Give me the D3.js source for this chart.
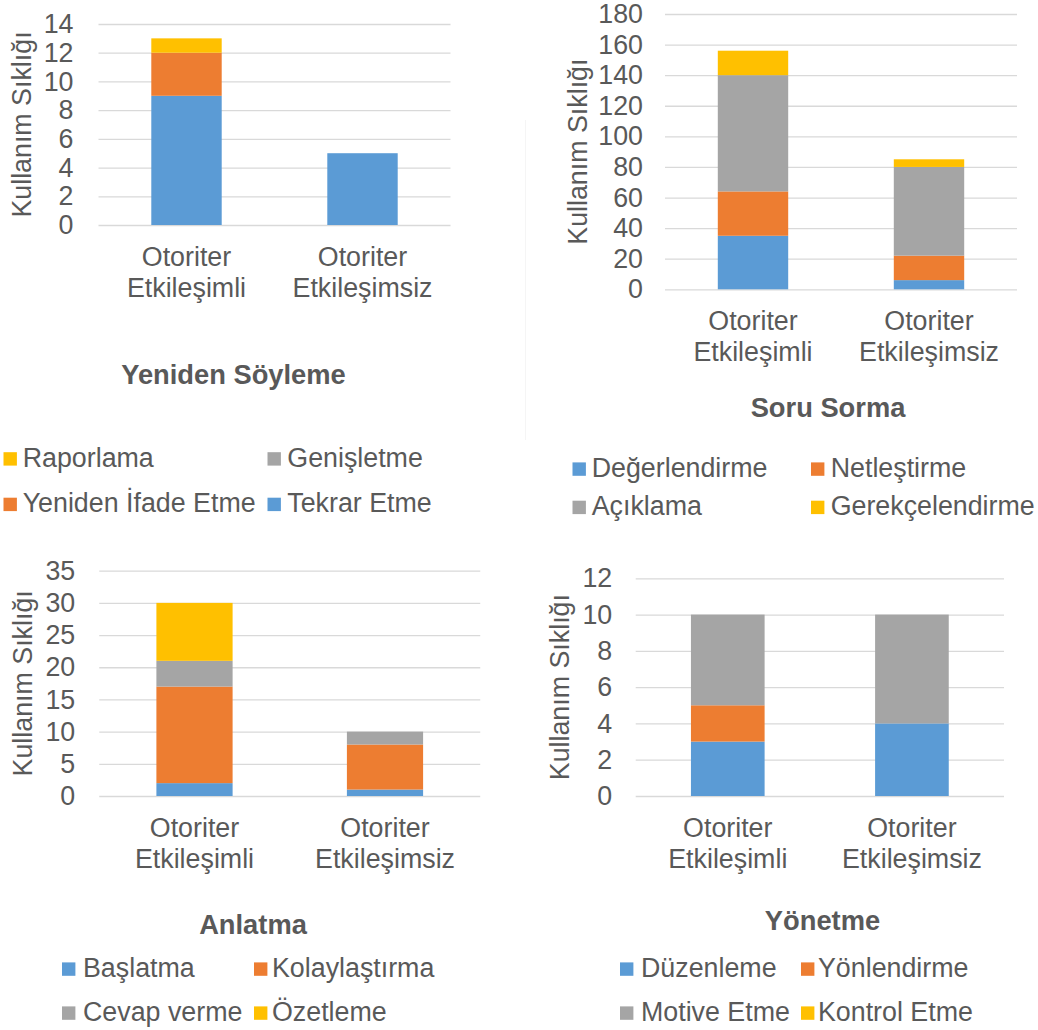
<!DOCTYPE html>
<html lang="tr">
<head>
<meta charset="utf-8">
<title>Kullanım Sıklığı</title>
<script src="https://cdn.jsdelivr.net/npm/d3@7"></script>
<style>
  html, body { margin: 0; padding: 0; background: #ffffff; }
  svg { display: block; }
</style>
</head>
<body>
<svg id="chart" width="1038" height="1030"></svg>
<script>
// Categories shared by all four charts
const categories = ["Otoriter Etkileşimli", "Otoriter Etkileşimsiz"];
const categoryLines = [["Otoriter", "Etkileşimli"], ["Otoriter", "Etkileşimsiz"]];

// Series colours, bottom to top of each stack
const seriesColors = ["#5B9BD5", "#ED7D31", "#A5A5A5", "#FFC000"];

// Yeniden Söyleme
const yenidenSeries = ["Tekrar Etme", "Yeniden İfade Etme", "Genişletme", "Raporlama"];
const tekrarEtme = [9, 5];
const yenidenIfadeEtme = [3, 0];
const genisletme = [0, 0];
const raporlama = [1, 0];
const yenidenTicks = [0, 2, 4, 6, 8, 10, 12, 14];
const yenidenLegend = ["Raporlama", "Genişletme", "Yeniden İfade Etme", "Tekrar Etme"];

// Soru Sorma
const soruSeries = ["Değerlendirme", "Netleştirme", "Açıklama", "Gerekçelendirme"];
const degerlendirme = [35, 6];
const netlestirme = [29, 16];
const aciklama = [76, 58];
const gerekcelendirme = [16, 5];
const soruTicks = [0, 20, 40, 60, 80, 100, 120, 140, 160, 180];
const soruLegend = ["Değerlendirme", "Netleştirme", "Açıklama", "Gerekçelendirme"];

// Anlatma
const anlatmaSeries = ["Başlatma", "Kolaylaştırma", "Cevap verme", "Özetleme"];
const baslatma = [2, 1];
const kolaylastirma = [15, 7];
const cevapVerme = [4, 2];
const ozetleme = [9, 0];
const anlatmaTicks = [0, 5, 10, 15, 20, 25, 30, 35];
const anlatmaLegend = ["Başlatma", "Kolaylaştırma", "Cevap verme", "Özetleme"];

// Yönetme
const yonetmeSeries = ["Düzenleme", "Yönlendirme", "Motive Etme", "Kontrol Etme"];
const duzenleme = [3, 4];
const yonlendirme = [2, 0];
const motiveEtme = [5, 6];
const kontrolEtme = [0, 0];
const yonetmeTicks = [0, 2, 4, 6, 8, 10, 12];
const yonetmeLegend = ["Düzenleme", "Yönlendirme", "Motive Etme", "Kontrol Etme"];

const axisTitle = "Kullanım Sıklığı";

const textColor = "#595959";
const gridColor = "#d9d9d9";
const fontFamily = "'Liberation Sans', Arial, Helvetica, sans-serif";
const fontSize = 26.8;
const titleSize = 27.3;

const svg = d3.select("#chart");

// faint chart-area border to the left of the Soru Sorma chart
svg.append("line")
  .attr("x1", 525.5).attr("x2", 525.5)
  .attr("y1", 120).attr("y2", 440)
  .attr("stroke", "#f5f5f5").attr("stroke-width", 1);

const panels = [
  {
    title: "Yeniden Söyleme", series: yenidenSeries,
    values: [tekrarEtme, yenidenIfadeEtme, genisletme, raporlama],
    ticks: yenidenTicks, legend: yenidenLegend,
    left: 98.5, right: 450.5, top: 24, bottom: 225, tickPad: 25, yTitleX: 22,
    labelBase: 265.7, titleX: 233.5, titleY: 384,
    legendCols: [{ sw: 3.5, tx: 22.7 }, { sw: 267.5, tx: 287.3 }], legendRows: [466.5, 512]
  },
  {
    title: "Soru Sorma", series: soruSeries,
    values: [degerlendirme, netlestirme, aciklama, gerekcelendirme],
    ticks: soruTicks, legend: soruLegend,
    left: 665, right: 1017, top: 14, bottom: 289.3, tickPad: 22, yTitleX: 578,
    labelBase: 330.5, titleX: 828, titleY: 417,
    legendCols: [{ sw: 572.5, tx: 591.7 }, { sw: 811, tx: 830.7 }], legendRows: [476.7, 515]
  },
  {
    title: "Anlatma", series: anlatmaSeries,
    values: [baslatma, kolaylastirma, cevapVerme, ozetleme],
    ticks: anlatmaTicks, legend: anlatmaLegend,
    left: 99.25, right: 480.25, top: 570.7, bottom: 796, tickPad: 24, yTitleX: 23,
    labelBase: 837, titleX: 253, titleY: 934,
    legendCols: [{ sw: 62, tx: 83 }, { sw: 254, tx: 272 }], legendRows: [976.7, 1020.7]
  },
  {
    title: "Yönetme", series: yonetmeSeries,
    values: [duzenleme, yonlendirme, motiveEtme, kontrolEtme],
    ticks: yonetmeTicks, legend: yonetmeLegend,
    left: 635.7, right: 1004, top: 578.3, bottom: 796, tickPad: 23.5, yTitleX: 560,
    labelBase: 837, titleX: 822.5, titleY: 930,
    legendCols: [{ sw: 620, tx: 641 }, { sw: 801, tx: 818 }], legendRows: [976.7, 1020.7]
  }
];

function drawPanel(p) {
  const g = svg.append("g");

  const x = d3.scaleBand()
    .domain(categories)
    .range([p.left, p.right])
    .paddingInner(0.6)
    .paddingOuter(0.3);

  const y = d3.scaleLinear()
    .domain([0, d3.max(p.ticks)])
    .range([p.bottom, p.top]);

  // gridlines and value labels
  g.append("g")
    .attr("transform", `translate(${p.left},0)`)
    .call(d3.axisLeft(y)
      .tickValues(p.ticks)
      .tickSize(-(p.right - p.left))
      .tickPadding(p.tickPad)
      .tickFormat(d3.format("d")))
    .call(a => a.select(".domain").remove())
    .call(a => a.selectAll(".tick line")
      .attr("stroke", gridColor).attr("stroke-width", 1.3))
    .call(a => a.selectAll(".tick text")
      .attr("fill", textColor)
      .style("font-family", fontFamily)
      .style("font-size", fontSize + "px"));

  // stacked bars
  const table = categories.map((c, i) => {
    const row = { category: c };
    p.series.forEach((s, j) => { row[s] = p.values[j][i]; });
    return row;
  });
  const stacked = d3.stack().keys(p.series)(table);

  g.append("g").selectAll("g")
    .data(stacked)
    .join("g")
    .attr("fill", (d, i) => seriesColors[i])
    .selectAll("rect")
    .data(d => d.filter(v => v[1] > v[0]))
    .join("rect")
    .attr("x", d => x(d.data.category))
    .attr("width", x.bandwidth())
    .attr("y", d => y(d[1]))
    .attr("height", d => y(d[0]) - y(d[1]));

  // category labels on two lines
  const xAxis = g.append("g")
    .attr("transform", `translate(0,${p.bottom})`)
    .call(d3.axisBottom(x).tickSize(0).tickFormat(""))
    .call(a => a.select(".domain").remove());
  xAxis.selectAll(".tick text").remove();
  xAxis.selectAll(".tick")
    .append("text")
    .attr("text-anchor", "middle")
    .attr("fill", textColor)
    .style("font-family", fontFamily)
    .style("font-size", fontSize + "px")
    .selectAll("tspan")
    .data(d => categoryLines[categories.indexOf(d)])
    .join("tspan")
    .attr("x", 0)
    .attr("y", (d, i) => p.labelBase - p.bottom + i * 30.8)
    .text(d => d);

  // axis title
  g.append("text")
    .attr("transform", `translate(${p.yTitleX},${(p.top + p.bottom) / 2}) rotate(-90)`)
    .attr("text-anchor", "middle")
    .attr("dominant-baseline", "central")
    .attr("fill", textColor)
    .style("font-family", fontFamily)
    .style("font-size", fontSize + "px")
    .text(axisTitle);

  // chart title
  g.append("text")
    .attr("x", p.titleX)
    .attr("y", p.titleY)
    .attr("text-anchor", "middle")
    .attr("fill", textColor)
    .style("font-family", fontFamily)
    .style("font-size", titleSize + "px")
    .style("font-weight", "bold")
    .text(p.title);

  // legend, two columns
  const items = g.append("g").selectAll("g")
    .data(p.legend)
    .join("g");
  items.append("rect")
    .attr("x", (d, i) => p.legendCols[i % 2].sw)
    .attr("y", (d, i) => p.legendRows[Math.floor(i / 2)] - 14.3)
    .attr("width", 13.4)
    .attr("height", 13.4)
    .attr("fill", d => seriesColors[p.series.indexOf(d)]);
  items.append("text")
    .attr("x", (d, i) => p.legendCols[i % 2].tx)
    .attr("y", (d, i) => p.legendRows[Math.floor(i / 2)])
    .attr("fill", textColor)
    .style("font-family", fontFamily)
    .style("font-size", fontSize + "px")
    .text(d => d);
}

panels.forEach(drawPanel);
</script>
</body>
</html>
